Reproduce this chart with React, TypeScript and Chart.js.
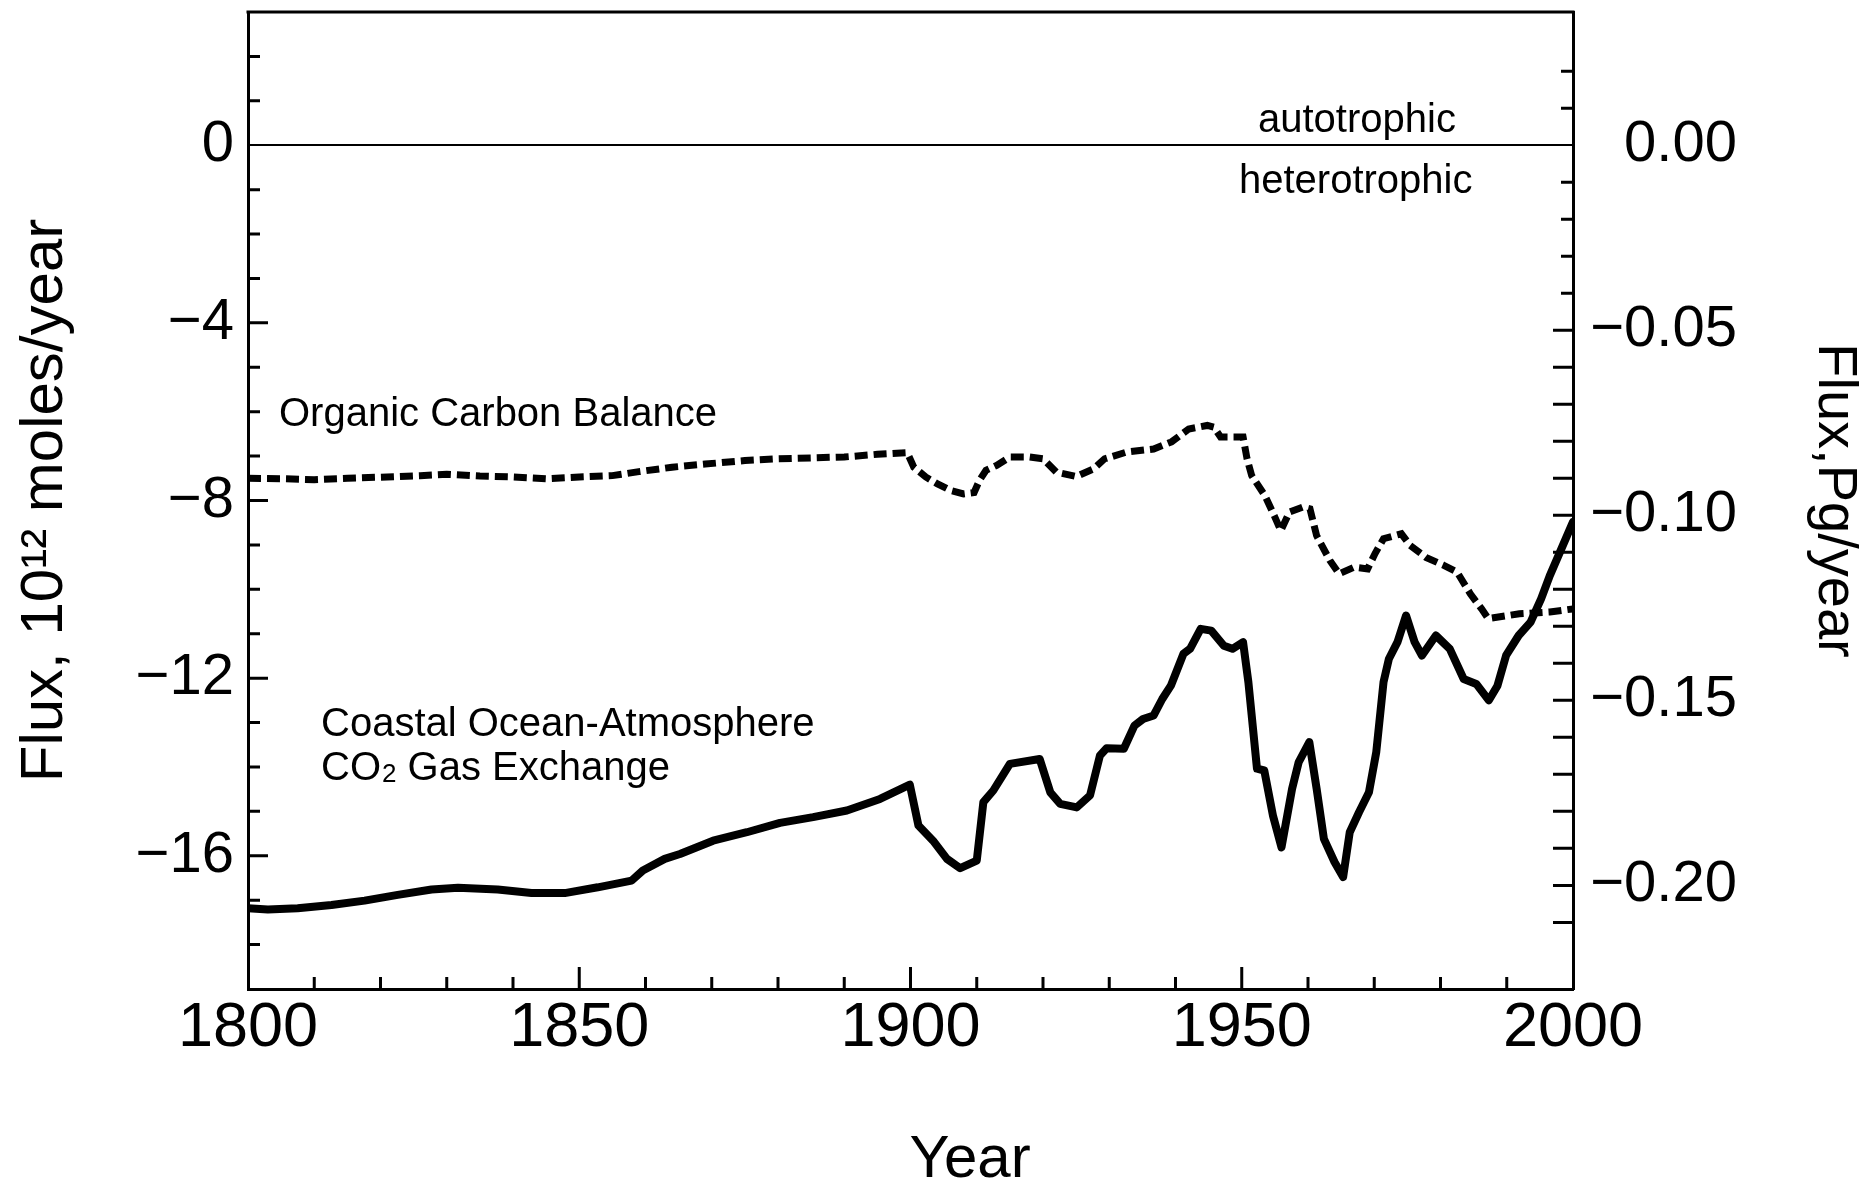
import React, { useEffect, useRef } from 'react';
import { Chart, registerables } from 'chart.js';

Chart.register(...registerables);

// ---- Data ----
const organicYears = [
  1800, 1805, 1810, 1815, 1821, 1826, 1830, 1835, 1840, 1845, 1850, 1855, 1859, 1864, 1869,
  1875, 1880, 1885, 1890, 1895, 1899.5, 1900.5, 1902.3, 1904, 1906, 1908, 1909.6, 1910.4,
  1911.4, 1913, 1915, 1918, 1920, 1922, 1925, 1927.6, 1929.3, 1932.6, 1936.7, 1939.4, 1942,
  1944.8, 1945.8, 1946.8, 1950.2, 1950.8, 1951.5, 1953.5, 1954.9, 1955.9, 1957.2, 1959.2,
  1960.3, 1961.3, 1963.3, 1964.7, 1967, 1969, 1970.1, 1971.4, 1974.1, 1975.4, 1977.8, 1980.5,
  1982.5, 1984.5, 1986.2, 1987.2, 1991.9, 1996.5, 2000,
];
const organicFlux = [
  -7.5, -7.51, -7.53, -7.5, -7.47, -7.44, -7.41, -7.45, -7.47, -7.51, -7.47, -7.44, -7.35, -7.25,
  -7.18, -7.1, -7.06, -7.04, -7.02, -6.96, -6.92, -7.25, -7.47, -7.62, -7.77, -7.85, -7.82, -7.55,
  -7.32, -7.21, -7.02, -7.02, -7.06, -7.36, -7.46, -7.29, -7.06, -6.91, -6.84, -6.68, -6.39,
  -6.31, -6.35, -6.57, -6.57, -7.06, -7.44, -7.89, -8.34, -8.68, -8.26, -8.15,
  -8.19, -8.79, -9.35, -9.65, -9.5, -9.54, -9.2, -8.86, -8.75, -9.01, -9.28, -9.46,
  -9.61, -10.1, -10.44, -10.66, -10.55, -10.51, -10.44,
];

const coastalYears = [
  1800, 1803, 1807.5, 1812.6, 1817.6, 1822.6, 1827.7, 1831.7, 1837.7, 1842.8, 1847.8, 1852.8,
  1857.9, 1859.6, 1862.9, 1865.2, 1870.2, 1875.3, 1880.3, 1885.3, 1890.4, 1895.4, 1899.9,
  1901.2, 1903.4, 1905.5, 1907.5, 1910, 1911, 1912.5, 1915, 1919.5, 1921.1, 1922.6, 1925.1,
  1927.1, 1928.6, 1929.6, 1932.2, 1933.8, 1935.1, 1936.7, 1938, 1939.3, 1941.2, 1942.2, 1943.8,
  1945.4, 1947.3, 1948.6, 1950.2, 1951, 1951.5, 1952.3, 1953.4, 1954.7, 1956, 1957.6, 1958.6,
  1960.2, 1961.3, 1962.4, 1964, 1965.3, 1966.3, 1967.7, 1969.2, 1970.3, 1971.4, 1972.2, 1973.5,
  1974.8, 1976.1, 1977.2, 1979.3, 1981.4, 1983.5, 1985.4, 1987.3, 1988.6, 1989.9, 1991.8,
  1993.6, 1995.2, 1996.5, 2000,
];
const coastalFlux = [
  -17.18, -17.21, -17.18, -17.11, -17.01, -16.88, -16.76, -16.72, -16.76, -16.84, -16.84, -16.71,
  -16.56, -16.33, -16.07, -15.96, -15.66, -15.47, -15.26, -15.13, -14.98, -14.72, -14.4,
  -15.32, -15.66, -16.07, -16.28, -16.11, -14.79, -14.53, -13.93, -13.82, -14.57, -14.83, -14.91,
  -14.64, -13.74, -13.58, -13.59, -13.07, -12.92, -12.84, -12.47, -12.17, -11.45, -11.34, -10.89,
  -10.93, -11.27, -11.34, -11.19, -12.09, -12.84, -14.04, -14.08, -15.09, -15.81, -14.49, -13.89,
  -13.44, -14.49, -15.62, -16.14, -16.48, -15.47, -15.02, -14.57, -13.67, -12.09, -11.57, -11.19,
  -10.59, -11.19, -11.49, -11.04, -11.34, -12.02, -12.13, -12.5, -12.17, -11.49, -11.04,
  -10.74, -10.21, -9.69, -8.48,
];

const xTickLabels = [1800, 1850, 1900, 1950, 2000];
const leftTickLabels = [-16, -12, -8, -4, 0];
const rightTickLabels = [-0.2, -0.15, -0.1, -0.05, 0];

const FONT = "'Liberation Sans', Arial, Helvetica, sans-serif";
const MINUS = '\u2212';

const zeroPad = (s: any) => {
  s.paddingTop = 0;
  s.paddingBottom = 0;
  s.paddingLeft = 0;
  s.paddingRight = 0;
};

export default function App() {
  const ref = useRef<HTMLCanvasElement>(null);

  useEffect(() => {
    document.body.style.margin = '0';
    const canvas = ref.current;
    if (!canvas) return;
    const ctx = canvas.getContext('2d');
    if (!ctx) return;

    const decor = {
      id: 'decor',
      beforeDraw(chart: any) {
        const c = chart.ctx;
        c.save();
        c.fillStyle = '#fff';
        c.fillRect(0, 0, chart.width, chart.height);
        c.restore();
      },
      afterDraw(chart: any) {
        const c = chart.ctx;
        const area = chart.chartArea;
        const xs = chart.scales.x;
        const ys = chart.scales.y;
        const y2 = chart.scales.y2;
        c.save();
        c.strokeStyle = '#000';
        c.lineWidth = 3;
        c.lineCap = 'butt';
        // top frame line
        c.beginPath();
        c.moveTo(area.left - 1.5, area.top);
        c.lineTo(area.right + 1.5, area.top);
        c.stroke();
        // inward ticks, x
        c.beginPath();
        xs.ticks.forEach((t: any) => {
          const v = t.value;
          if (v <= 1800 || v >= 2000 || Math.abs(v % 10) > 1e-6) return;
          const px = xs.getPixelForValue(v);
          const len = v % 50 === 0 ? 22 : 12;
          c.moveTo(px, area.bottom);
          c.lineTo(px, area.bottom - len);
        });
        // inward ticks, left y
        ys.ticks.forEach((t: any) => {
          const v = t.value;
          if (Math.abs(v - Math.round(v)) > 1e-6 || v === 0) return;
          if (v <= ys.min || v >= ys.max) return;
          const py = ys.getPixelForValue(v);
          const len = v % 4 === 0 ? 20 : 12;
          c.moveTo(area.left, py);
          c.lineTo(area.left + len, py);
        });
        // inward ticks, right y
        y2.ticks.forEach((t: any) => {
          const v = t.value;
          const k = Math.round(v * 100);
          if (Math.abs(v * 100 - k) > 1e-6 || k === 0) return;
          if (v <= y2.min || v >= y2.max) return;
          const py = y2.getPixelForValue(v);
          const len = k <= -5 ? 20 : 12;
          c.moveTo(area.right, py);
          c.lineTo(area.right - len, py);
        });
        c.stroke();

        // annotations
        c.fillStyle = '#000';
        c.textBaseline = 'alphabetic';
        c.textAlign = 'left';
        c.font = `40px ${FONT}`;
        c.fillText('autotrophic', 1258, 132);
        c.fillText('heterotrophic', 1239, 193);
        c.fillText('Organic Carbon Balance', 279, 426);
        c.fillText('Coastal Ocean-Atmosphere', 321, 736);
        let x = 321;
        const yb = 780;
        c.fillText('CO', x, yb);
        x += c.measureText('CO').width + 1;
        c.font = `26px ${FONT}`;
        c.fillText('2', x, yb + 2);
        x += c.measureText('2').width;
        c.font = `40px ${FONT}`;
        c.fillText(' Gas Exchange', x, yb);

        // x axis title
        c.font = `60px ${FONT}`;
        c.textAlign = 'center';
        c.fillText('Year', 970, 1177);
        c.restore();
      },
    };

    const chart = new Chart(ctx, {
      type: 'line',
      data: {
        datasets: [
          {
            label: 'Organic Carbon Balance',
            data: organicYears.map((yr, i) => ({ x: yr, y: organicFlux[i] })),
            borderColor: '#000',
            borderWidth: 7,
            borderDash: [13, 6],
            pointRadius: 0,
            tension: 0,
            fill: false,
            yAxisID: 'y',
          },
          {
            label: 'Coastal Ocean-Atmosphere CO2 Gas Exchange',
            data: coastalYears.map((yr, i) => ({ x: yr, y: coastalFlux[i] })),
            borderColor: '#000',
            borderWidth: 8,
            borderJoinStyle: 'round',
            borderCapStyle: 'round',
            pointRadius: 0,
            tension: 0,
            fill: false,
            yAxisID: 'y',
          },
        ],
      },
      options: {
        responsive: false,
        animation: false,
        devicePixelRatio: 1,
        layout: { padding: { top: 12, right: 129, bottom: 0, left: 0 } },
        plugins: { legend: { display: false }, tooltip: { enabled: false }, title: { display: false } },
        scales: {
          x: {
            type: 'linear',
            position: 'bottom',
            min: 1800,
            max: 2000,
            afterFit: (s: any) => { s.height = 197; zeroPad(s); },
            grid: { display: false, drawTicks: false },
            border: { display: true, color: '#000', width: 3 },
            ticks: {
              stepSize: 10,
              autoSkip: false,
              maxRotation: 0,
              padding: 8,
              color: '#000',
              font: { family: FONT, size: 63, lineHeight: 1 },
              callback: (v: any) => (xTickLabels.includes(Number(v)) ? String(v) : ''),
            },
          },
          y: {
            type: 'linear',
            position: 'left',
            min: -19,
            max: 3,
            afterFit: (s: any) => { s.width = 248; zeroPad(s); },
            grid: {
              display: true,
              drawTicks: false,
              color: (c: any) => (c.tick && c.tick.value === 0 ? '#000' : 'rgba(0,0,0,0)'),
              lineWidth: 2,
            },
            border: { display: true, color: '#000', width: 3 },
            ticks: {
              stepSize: 1,
              autoSkip: false,
              padding: 14,
              color: '#000',
              font: { family: FONT, size: 58, lineHeight: 1 },
              callback: (v: any) => {
                const n = Number(v);
                if (!leftTickLabels.includes(n)) return '';
                return n < 0 ? MINUS + Math.abs(n) : String(n);
              },
            },
            title: {
              display: true,
              text: 'Flux, 10\u00b9\u00b2 moles/year',
              color: '#000',
              font: { family: FONT, size: 60, lineHeight: 1 },
              padding: { top: 15.5, bottom: 0 },
            },
          },
          y2: {
            type: 'linear',
            position: 'right',
            min: -0.228,
            max: 0.036,
            afterFit: (s: any) => { s.width = 164; zeroPad(s); },
            grid: { display: false, drawTicks: false },
            border: { display: true, color: '#000', width: 3 },
            ticks: {
              stepSize: 0.01,
              autoSkip: false,
              crossAlign: 'far',
              padding: 0,
              color: '#000',
              font: { family: FONT, size: 58, lineHeight: 1 },
              callback: (v: any) => {
                const n = Number(v);
                const hit = rightTickLabels.find((l) => Math.abs(l - n) < 1e-6);
                if (hit === undefined) return '';
                return hit === 0 ? '0.00' : MINUS + Math.abs(hit).toFixed(2);
              },
            },
            title: {
              display: true,
              text: 'Flux,Pg/year',
              color: '#000',
              font: { family: FONT, size: 56, lineHeight: 1 },
              padding: { top: -125, bottom: 0 },
            },
          },
        },
      },
      plugins: [decor],
    } as any);

    return () => chart.destroy();
  }, []);

  return (
    <div style={{ width: 1866, height: 1186 }}>
      <canvas ref={ref} width={1866} height={1186} style={{ display: 'block' }} />
    </div>
  );
}
